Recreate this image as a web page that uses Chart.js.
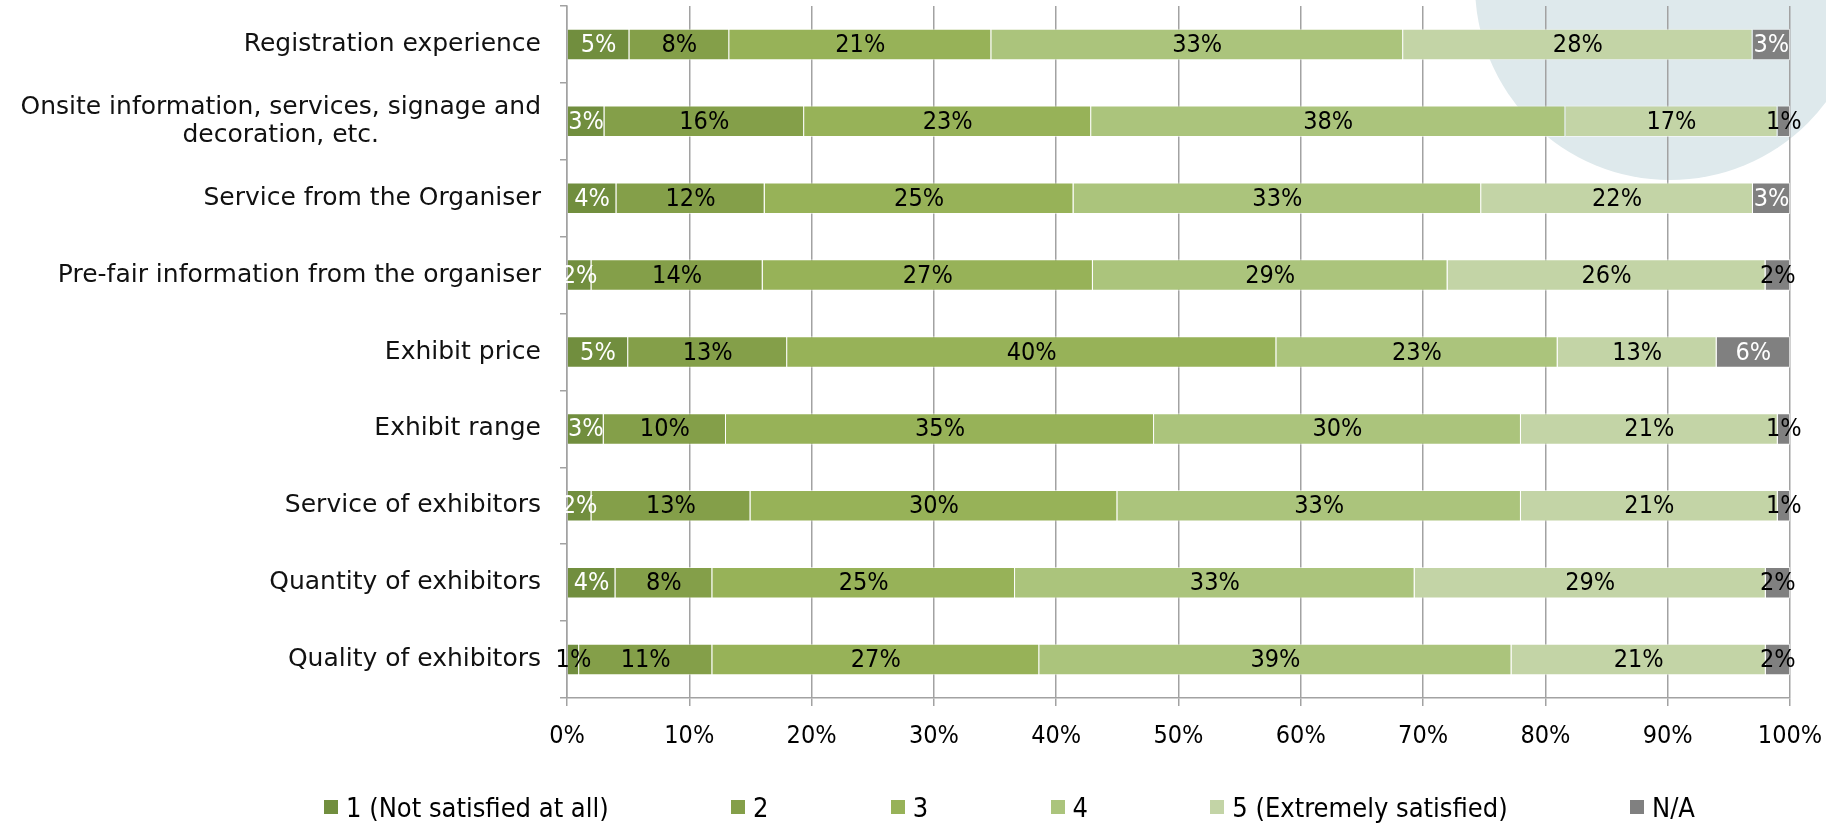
<!DOCTYPE html>
<html>
<head>
<meta charset="utf-8">
<title>Satisfaction survey</title>
<script src="https://cdn.jsdelivr.net/npm/chart.js@4.4.1/dist/chart.umd.min.js"></script>
<style>
    html, body { margin: 0; padding: 0; background: #fff; }
    #wrap { position: relative; width: 1826px; height: 836px; overflow: hidden; }
    /* pale watermark circle behind the plot, top right */
    #bgcircle { position: absolute; left: 1475px; top: -210px; width: 390px; height: 390px; border-radius: 50%; background: #dee9ec; }
    #chart { position: absolute; left: 0; top: 0; }
    /* Excel spreads the legend entries with equal gaps */
    #legend { position: absolute; left: 324px; top: 790px; width: 1371px; height: 34px; display: flex; justify-content: space-between; font-family: "DejaVu Sans Condensed", "DejaVu Sans", sans-serif; font-size: 27px; color: #000; }
    #legend .item { display: flex; align-items: center; white-space: nowrap; height: 34px; }
    #legend .box { width: 14px; height: 14px; margin-right: 8px; }
</style>
</head>
<body>
<div id="wrap">
    <div id="bgcircle"></div>
    <canvas id="chart" width="1826" height="836"></canvas>
    <div id="legend"></div>
</div>
<script>
// 类别（自上而下）
const categories = [
    'Registration experience',
    ['Onsite information, services, signage and', 'decoration, etc.'],
    'Service from the Organiser',
    'Pre-fair information from the organiser',
    'Exhibit price',
    'Exhibit range',
    'Service of exhibitors',
    'Quantity of exhibitors',
    'Quality of exhibitors'
];

const seriesNames = ['1 (Not satisfied at all)', '2', '3', '4', '5 (Extremely satisfied)', 'N/A'];

// 各评分的百分比（按标签读取）
const score1 = [5, 3, 4, 2, 5, 3, 2, 4, 1];
const score2 = [8, 16, 12, 14, 13, 10, 13, 8, 11];
const score3 = [21, 23, 25, 27, 40, 35, 30, 25, 27];
const score4 = [33, 38, 33, 29, 23, 30, 33, 33, 39];
const score5 = [28, 17, 22, 26, 13, 21, 21, 29, 21];
const scoreNA = [3, 1, 3, 2, 6, 1, 1, 2, 2];

const xTickValues = [0, 10, 20, 30, 40, 50, 60, 70, 80, 90, 100];

// 样式
const seriesColors = ['#718e3e', '#849f49', '#97b258', '#abc47c', '#c3d4a6', '#808080'];
const whiteLabelMin = [2, null, null, null, null, 3];   // 深色系列：值达到该数才用白字

const LABEL_FONT = '"DejaVu Sans Condensed", "DejaVu Sans", sans-serif';
const CAT_FONT = '"DejaVu Sans", sans-serif';
const GRID = '#a2a2a2';

// 100% 堆积：按每行合计归一化
const allSeries = [score1, score2, score3, score4, score5, scoreNA];
const rowTotals = categories.map((_, i) => allSeries.reduce((s, arr) => s + arr[i], 0));

const datasets = allSeries.map((arr, k) => ({
    label: seriesNames[k],
    data: arr.map((v, i) => v / rowTotals[i] * 100),
    rawValues: arr,
    backgroundColor: seriesColors[k],
    borderColor: 'rgba(255,255,255,0.55)',
    borderWidth: { left: 0, right: 1, top: 1, bottom: 1 },
    borderSkipped: false,
    barPercentage: 0.41,
    categoryPercentage: 1.0
}));

// 段内百分比标签
const segmentLabels = {
    id: 'segmentLabels',
    afterDatasetsDraw(chart) {
        const ctx = chart.ctx;
        ctx.save();
        ctx.font = '25px ' + LABEL_FONT;
        ctx.textAlign = 'center';
        ctx.textBaseline = 'middle';
        chart.data.datasets.forEach((ds, di) => {
            chart.getDatasetMeta(di).data.forEach((bar, i) => {
                const v = ds.rawValues[i];
                const min = whiteLabelMin[di];
                ctx.fillStyle = (min !== null && v >= min) ? '#ffffff' : '#000000';
                ctx.fillText(v + '%', (bar.x + bar.base) / 2, bar.y + 1);
            });
        });
        ctx.restore();
    }
};

// 类别标签（多行时居中对齐）
const categoryLabels = {
    id: 'categoryLabels',
    afterDraw(chart) {
        const ctx = chart.ctx;
        const yScale = chart.scales.y;
        const right = chart.chartArea.left - 26;
        const lineH = 28;
        ctx.save();
        ctx.font = '25px ' + CAT_FONT;
        ctx.fillStyle = '#111';
        ctx.textAlign = 'center';
        ctx.textBaseline = 'middle';
        categories.forEach((label, i) => {
            const lines = Array.isArray(label) ? label : [label];
            const w = Math.max(...lines.map(l => ctx.measureText(l).width));
            const cx = right - w / 2;
            const y0 = yScale.getPixelForValue(i) - (lines.length - 1) * lineH / 2;
            lines.forEach((l, j) => ctx.fillText(l, cx, y0 + j * lineH));
        });
        ctx.restore();
    }
};

const chart = new Chart(document.getElementById('chart'), {
    type: 'bar',
    data: { labels: categories, datasets: datasets },
    options: {
        indexAxis: 'y',
        responsive: false,
        animation: false,
        layout: { padding: { top: 6, right: 36, bottom: 80, left: 0 } },
        plugins: {
            legend: { display: false },
            tooltip: { enabled: false }
        },
        scales: {
            x: {
                stacked: true,
                min: 0,
                max: 100,
                afterBuildTicks(scale) {
                    scale.ticks = xTickValues.map(v => ({ value: v }));
                },
                afterFit(scale) {
                    scale.height = 58;
                    scale.paddingLeft = 0;
                    scale.paddingRight = 0;
                },
                grid: { color: GRID, lineWidth: 1.5, drawTicks: true, tickLength: 8 },
                border: { color: GRID, width: 1.5 },
                ticks: {
                    callback: v => v + '%',
                    color: '#000',
                    padding: 15,
                    font: { family: LABEL_FONT, size: 25 }
                }
            },
            y: {
                stacked: true,
                afterFit(scale) { scale.width = 567; },
                grid: { drawOnChartArea: false, drawTicks: true, tickLength: 7, color: GRID, lineWidth: 1.5 },
                border: { color: GRID, width: 1.5 },
                ticks: { display: false }
            }
        }
    },
    plugins: [segmentLabels, categoryLabels]
});

// 图例
const legendEl = document.getElementById('legend');
legendEl.innerHTML = seriesNames.map((name, k) => `
    <div class="item">
        <span class="box" style="background:${seriesColors[k]}"></span>${name}
    </div>
`).join('');
</script>
</body>
</html>
